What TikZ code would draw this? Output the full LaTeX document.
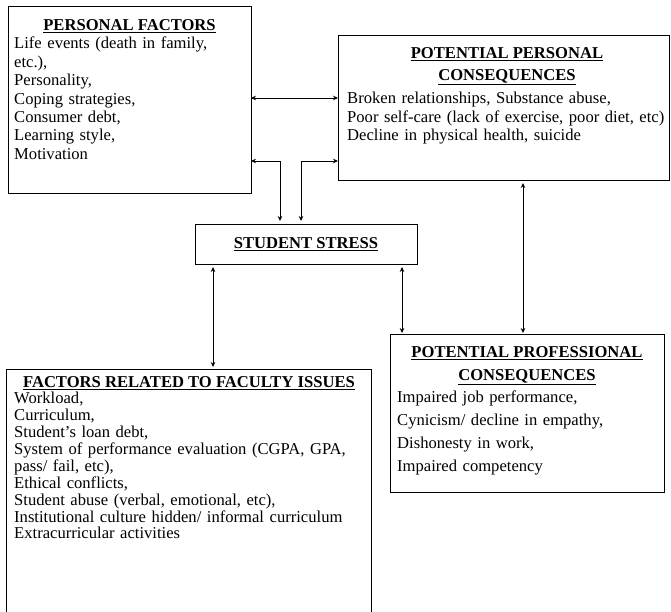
\documentclass[tikz,border=0pt]{standalone}
\usepackage{fontspec}
\setmainfont{Liberation Serif}
\usetikzlibrary{arrows.meta,calc}
\begin{document}
\begin{tikzpicture}[x=1pt,y=-1pt,
  box/.style={draw, line width=0.8pt, inner sep=0pt, outer sep=0pt},
  body/.style={anchor=north west, inner sep=0pt, align=left, text width=#1},
  head/.style={anchor=north, inner sep=0pt, align=center},
  link/.style={line width=0.8pt, {Stealth[length=5pt,width=4.5pt]}-{Stealth[length=5pt,width=4.5pt]}},
]
\useasboundingbox (0,0) rectangle (671,612);
% boxes
\node[box, minimum width=243pt, minimum height=187pt] (pf) at (129.5,99.5) {};
\node[box, minimum width=331.5pt, minimum height=145pt] (ppc) at (503.75,107.5) {};
\node[box, minimum width=222pt, minimum height=40pt] (ss) at (306,244) {};
\node[box, minimum width=365pt, minimum height=251pt] (fac) at (188.5,494.5) {};
\node[box, minimum width=274pt, minimum height=158pt] (prof) at (527,413) {};
% personal factors
\node[head, font=\fontsize{16.6}{22}\selectfont\bfseries] (pfh) at (129.5,19) {\underline{PERSONAL FACTORS}};
\node[body=235pt, font=\fontsize{16.6}{18.4}\selectfont] (pfb) at (14,37) {Life events (death in family,\\ etc.),\\ Personality,\\ Coping strategies,\\ Consumer debt,\\ Learning style,\\ Motivation};
% potential personal consequences
\node[head, font=\fontsize{16.6}{22}\selectfont\bfseries] (ppch) at (507,47) {\underline{POTENTIAL PERSONAL}\\ \underline{CONSEQUENCES}};
\node[body=320pt, font=\fontsize{16.6}{18.5}\selectfont] (ppcb) at (347,92) {Broken relationships, Substance abuse,\\ Poor self-care (lack of exercise, poor diet, etc)\\ Decline in physical health, suicide};
% student stress
\node[inner sep=0pt, font=\fontsize{16.6}{20}\selectfont\bfseries] (ssh) at (306,244) {\underline{STUDENT STRESS}};
% faculty issues
\node[head, font=\fontsize{16.6}{20}\selectfont\bfseries] (fach) at (189,376) {\underline{FACTORS RELATED TO FACULTY ISSUES}};
\node[body=355pt, font=\fontsize{16.6}{16.9}\selectfont] (facb) at (14,392) {Workload,\\ Curriculum,\\ Student’s loan debt,\\ System of performance evaluation (CGPA, GPA,\\ pass/ fail, etc),\\ Ethical conflicts,\\ Student abuse (verbal, emotional, etc),\\ Institutional culture hidden/ informal curriculum\\ Extracurricular activities};
% professional consequences
\node[head, font=\fontsize{16.6}{23}\selectfont\bfseries] (profh) at (527,346) {\underline{POTENTIAL PROFESSIONAL}\\ \underline{CONSEQUENCES}};
\node[body=265pt, font=\fontsize{16.6}{23}\selectfont] (profb) at (397,391) {Impaired job performance,\\ Cynicism/ decline in empathy,\\ Dishonesty in work,\\ Impaired competency};
% connector anchor coordinates
\coordinate (r1) at (300,98);
\coordinate (k1) at (280,161);
\coordinate (k2) at (301,161);
\coordinate (k3) at (213,0);
\coordinate (k4) at (402,0);
\coordinate (k5) at (523,0);
% connectors
\draw[link] (r1 -| pf.east) -- (r1 -| ppc.west);
\draw[link, shorten >=3pt] (k1 -| pf.east) -- (k1) -- (k1 |- ss.north);
\draw[link, shorten >=3pt] (k2 -| ppc.west) -- (k2) -- (k2 |- ss.north);
\draw[link, shorten <=3pt, shorten >=2pt] (k3 |- ss.south) -- (k3 |- fac.north);
\draw[link, shorten <=3pt, shorten >=1pt] (k4 |- ss.south) -- (k4 |- prof.north);
\draw[link, shorten <=3pt, shorten >=1pt] (k5 |- ppc.south) -- (k5 |- prof.north);
\end{tikzpicture}
\end{document}
